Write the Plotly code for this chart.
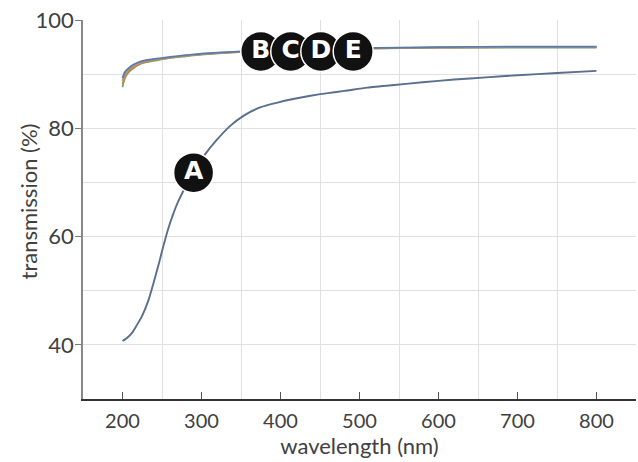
import plotly.graph_objects as go

# Curve A (uncoated)
wl_a = [200, 206, 212, 218, 225, 233, 240, 246, 252, 258, 264, 270, 280, 290, 304, 319, 336,
        353, 375, 395, 416, 438, 460, 481, 510, 544, 580, 620, 660, 700, 750, 800]
t_a = [40.7, 41.3, 42.2, 43.6, 45.4, 48.3, 51.8, 55.0, 58.4, 61.5, 64.1, 66.3, 69.3, 72.0, 75.1, 77.8, 80.4,
       82.3, 83.9, 84.7, 85.4, 86.0, 86.5, 86.9, 87.5, 88.0, 88.5, 89.0, 89.4, 89.8, 90.2, 90.6]

# Curves B-E (coated)
wl_be = [200, 203, 207, 212, 220, 230, 245, 260, 280, 300, 340, 400, 500, 600, 700, 800]
t_b = [89.3, 90.4, 91.0, 91.6, 92.2, 92.6, 92.9, 93.2, 93.5, 93.8, 94.1, 94.5, 94.8, 95.0, 95.1, 95.1]
t_c = [88.2, 89.6, 90.5, 91.1, 91.8, 92.3, 92.7, 93.0, 93.4, 93.7, 94.0, 94.4, 94.7, 94.9, 95.0, 95.0]
t_d = [87.6, 89.2, 90.2, 90.9, 91.7, 92.2, 92.6, 93.0, 93.3, 93.6, 94.0, 94.4, 94.7, 94.9, 94.9, 94.9]
t_e = [88.8, 90.1, 90.8, 91.4, 92.0, 92.5, 92.8, 93.1, 93.4, 93.7, 94.1, 94.5, 94.8, 94.9, 95.0, 95.0]

# Circle labels
label_text = ["A", "B", "C", "D", "E"]
label_x = [290, 375, 413, 451, 492]
label_y = [71.8, 94.2, 94.2, 94.2, 94.2]

x_ticks = [200, 300, 400, 500, 600, 700, 800]
x_grid = [250, 350, 450, 550, 650, 750, 850]
y_ticks = [40, 60, 80, 100]
y_grid = [40, 50, 60, 70, 80, 90, 100]

fig = go.Figure()
series = [(t_d, "#6aa84f"), (t_c, "#e07b4f"), (t_e, "#9a9a9a"), (t_b, "#5b7ba6")]
for ys, col in series:
    fig.add_trace(go.Scatter(x=wl_be, y=ys, mode="lines",
                             line=dict(color=col, width=1.7, shape="spline", smoothing=0.6),
                             showlegend=False, hoverinfo="skip"))
fig.add_trace(go.Scatter(x=wl_a, y=t_a, mode="lines",
                         line=dict(color="#5a6e8e", width=1.9, shape="spline", smoothing=0.6),
                         showlegend=False, hoverinfo="skip"))
fig.add_trace(go.Scatter(x=label_x, y=label_y, mode="markers+text", text=label_text,
                         textposition="middle center",
                         textfont=dict(family="DejaVu Sans", size=25, color="white", weight="bold"),
                         marker=dict(size=40, color="#111111", line=dict(color="white", width=1.5)),
                         showlegend=False, hoverinfo="skip"))

font_fam = "Lato"
fig.update_layout(
    width=638, height=462,
    margin=dict(l=83, r=2, t=20, b=63),
    plot_bgcolor="white", paper_bgcolor="white",
    font=dict(family=font_fam, color="#404040", size=20),
    xaxis=dict(range=[150, 850], tickmode="array", tickvals=x_ticks, automargin=False,
               ticks="inside", ticklen=7, tickcolor="#555555", tickwidth=1,
               ticklabelstandoff=3,
               showgrid=False, zeroline=False,
               showline=True, linecolor="#333333", linewidth=1.5,
               title=dict(text="wavelength (nm)", font=dict(size=22), standoff=2),
               tickfont=dict(size=20),
               minor=dict(tickmode="array", tickvals=x_grid, showgrid=True,
                          gridcolor="#e0e0e0", gridwidth=1, ticks="")),
    yaxis=dict(range=[30, 100], tickmode="array", tickvals=y_ticks, automargin=False,
               ticks="outside", ticklen=6, tickcolor="#777777", tickwidth=1,
               ticklabelstandoff=-3,
               showgrid=False, zeroline=False,
               showline=True, linecolor="#888888", linewidth=1.5,
               tickfont=dict(size=22),
               minor=dict(tickmode="array", tickvals=y_grid, showgrid=True,
                          gridcolor="#e0e0e0", gridwidth=1, ticks="")),
    annotations=[dict(text="transmission (%)", xref="paper", yref="paper", x=0, y=0.5,
                      xanchor="center", yanchor="middle", xshift=-55, yshift=8,
                      textangle=-90, showarrow=False, font=dict(size=22, color="#404040"))],
)

fig.write_html("out.html", config={"displayModeBar": False},
               post_script="document.body.style.margin='0px';")
